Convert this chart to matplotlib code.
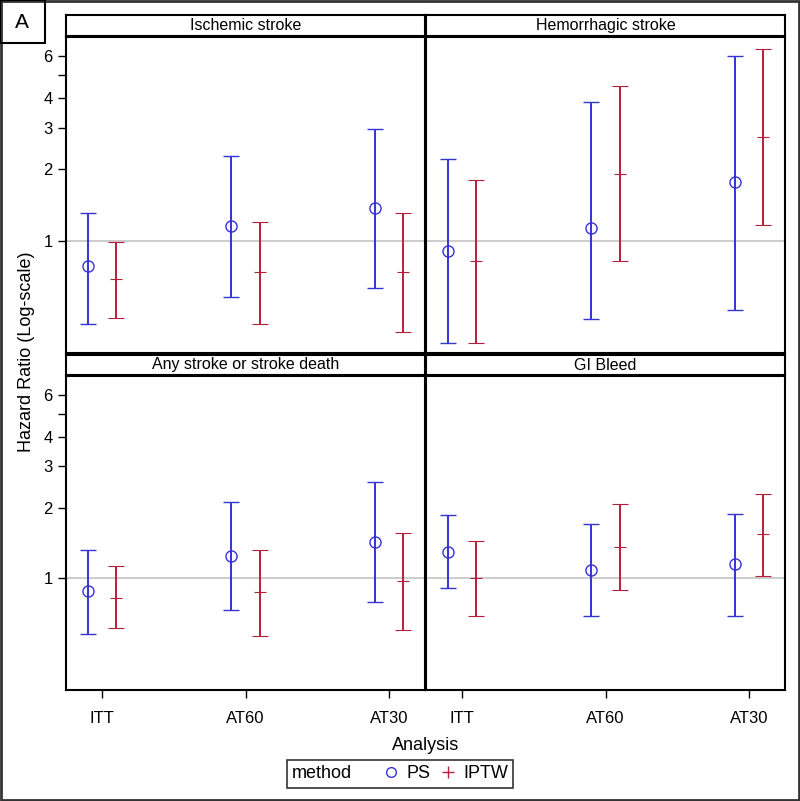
import numpy as np
import matplotlib.pyplot as plt
from matplotlib.lines import Line2D
from matplotlib.patches import Rectangle
from matplotlib.offsetbox import HPacker

plt.rcParams['font.family'] = ['Liberation Sans', 'DejaVu Sans']

cats = ['ITT', 'AT60', 'AT30']
panels = ['Ischemic stroke', 'Hemorrhagic stroke', 'Any stroke or stroke death', 'GI Bleed']

# hazard ratios and 95% CI, one list per panel
ps_hr = [[0.78, 1.15, 1.37], [0.905, 1.135, 1.76], [0.886, 1.247, 1.425], [1.296, 1.084, 1.146]]
ps_lo = [[0.445, 0.575, 0.63], [0.37, 0.465, 0.51], [0.58, 0.735, 0.795], [0.907, 0.694, 0.694]]
ps_hi = [[1.31, 2.27, 2.95], [2.21, 3.84, 6.02], [1.32, 2.105, 2.56], [1.859, 1.694, 1.873]]

iptw_hr = [[0.685, 0.74, 0.74], [0.82, 1.92, 2.74], [0.825, 0.872, 0.974], [1.0, 1.361, 1.536]]
iptw_lo = [[0.47, 0.445, 0.41], [0.37, 0.82, 1.165], [0.614, 0.571, 0.604], [0.694, 0.892, 1.02]]
iptw_hi = [[0.99, 1.20, 1.31], [1.81, 4.49, 6.43], [1.127, 1.318, 1.56], [1.443, 2.07, 2.29]]

blue = '#3333D6'
red = '#B52038'
W, H = 800, 801

fig = plt.figure(figsize=(8, 8.01), dpi=100)

def box(x0, y0, x1, y1):
    # pixel box (from top-left) -> figure fraction rect
    return [x0 / W, 1 - y1 / H, (x1 - x0) / W, (y1 - y0) / H]

plot_boxes = [(66, 37, 425, 353), (426, 37, 785, 353), (66, 376, 425, 690), (426, 376, 785, 690)]
strip_boxes = [(66, 15, 425, 36), (426, 15, 785, 36), (66, 355, 425, 375), (426, 355, 785, 375)]

x = np.arange(len(cats))
off = 0.1
for i in range(4):
    ax = fig.add_axes(box(*plot_boxes[i]))
    ax.set_yscale('log')
    ax.axhline(1, color='#C8C8C8', lw=1.3, zorder=0)
    ps_err = [np.array(ps_hr[i]) - np.array(ps_lo[i]), np.array(ps_hi[i]) - np.array(ps_hr[i])]
    ip_err = [np.array(iptw_hr[i]) - np.array(iptw_lo[i]), np.array(iptw_hi[i]) - np.array(iptw_hr[i])]
    ax.errorbar(x - off, ps_hr[i], yerr=ps_err, fmt='o', mfc='none', mec=blue, ms=8, mew=1,
                ecolor=blue, elinewidth=1.4, capsize=5.5, capthick=1.4)
    ax.errorbar(x + off, iptw_hr[i], yerr=ip_err, fmt='_', color=red, ms=9, mew=0.8,
                ecolor=red, elinewidth=1.4, capsize=5.5, capthick=1.4)
    ax.set_xlim(-0.25, 2.25)
    ax.set_ylim(0.335, 7.25)
    ax.minorticks_off()
    for s in ax.spines.values():
        s.set_linewidth(1.5)
    ax.tick_params(direction='out', length=6, width=1, labelsize=12)
    if i % 2 == 0:
        ax.set_yticks([1, 2, 3, 4, 5, 6])
        ax.set_yticklabels(['1', '2', '3', '4', '', '6'])
    else:
        ax.set_yticks([])
    if i >= 2:
        ax.set_xticks(x)
        ax.set_xticklabels(cats)
        ax.tick_params(axis='x', pad=9)
    else:
        ax.set_xticks([])

    sax = fig.add_axes(box(*strip_boxes[i]))
    sax.set_xticks([])
    sax.set_yticks([])
    for s in sax.spines.values():
        s.set_linewidth(1.5)
    sax.text(0.5, 0.5, panels[i], ha='center', va='center', fontsize=11.5, transform=sax.transAxes)

fig.text(27 / W, 1 - 352 / H, 'Hazard Ratio (Log-scale)', rotation=90, ha='center', va='center', fontsize=13)
fig.text(426 / W, 1 - 746 / H, 'Analysis', ha='center', va='center', fontsize=13)

handles = [Line2D([], [], marker='o', mfc='none', mec=blue, ls='none', ms=7),
           Line2D([], [], marker='+', color=red, ls='none', ms=9)]
leg = fig.legend(handles, ['PS', 'IPTW'], title='method', title_fontsize=13,
                 loc='center', bbox_to_anchor=(400 / W, 1 - 774 / H),
                 ncol=2, frameon=True, fontsize=13, handlelength=0.9, handletextpad=0.4,
                 columnspacing=0.5, borderpad=0.2, fancybox=False, edgecolor='black')
# put the title to the left of the entries, SAS-style
leg._legend_box = HPacker(pad=leg.borderpad * 13 * 100 / 72, sep=22, align='center',
                          children=[leg._legend_title_box, leg._legend_handle_box])
leg._legend_box.set_figure(fig)
leg._loc = leg._loc
leg.get_frame().set_linewidth(1.2)

# outer frame and panel tag
fig.patches.append(Rectangle((1 / W, 1 / H), 1 - 2 / W, 1 - 2 / H, transform=fig.transFigure,
                             fill=False, edgecolor='#333333', lw=2))
fig.patches.append(Rectangle((0, 1 - 43 / H), 45 / W, 43 / H, transform=fig.transFigure,
                             fill=False, edgecolor='black', lw=1.5))
fig.text(22 / W, 1 - 22 / H, 'A', ha='center', va='center', fontsize=15)

fig.savefig('out.png', dpi=100)
